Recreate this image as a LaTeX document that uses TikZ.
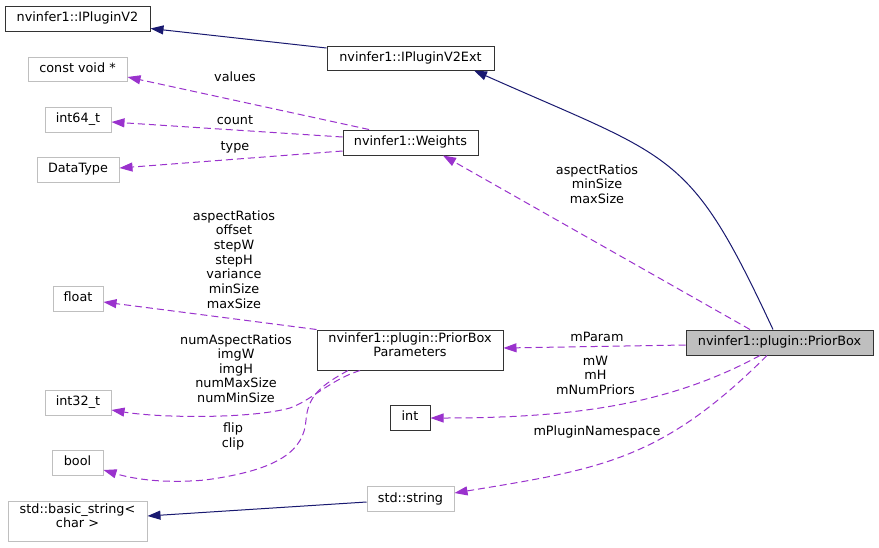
\documentclass[tikz,border=0pt]{standalone}
\usepackage{fontspec}
\setmainfont{DejaVu Sans}
\usetikzlibrary{arrows.meta,calc}
\definecolor{navyc}{HTML}{191970}
\definecolor{orchidc}{HTML}{9A32CD}
\definecolor{grayb}{HTML}{BFBFBF}
\definecolor{darkb}{HTML}{333333}
\newcommand\mlines[2]{\vtop{\baselineskip=#1\relax\halign{\hfil##\hfil\cr#2\crcr}}}
\begin{document}
\begin{tikzpicture}[x=1pt,y=-1pt,
  font=\fontsize{12.8pt}{14.6pt}\selectfont,
  box/.style={rectangle,inner sep=0pt,line width=1pt,text height=9.4pt,text depth=3pt},
  boxtwo/.style={rectangle,inner sep=0pt,line width=1pt,text height=9.4pt,text depth=24pt},
  docbox/.style={draw=darkb,fill=white},
  undocbox/.style={draw=grayb,fill=white},
  mainbox/.style={draw=darkb,fill=grayb},
  inh/.style={draw=navyc,line width=1pt,-{Triangle[length=13pt,width=9pt]},color=navyc},
  use/.style={draw=orchidc,line width=1pt,dash pattern=on 7pt off 4pt,-{Triangle[length=13pt,width=9pt]},color=orchidc},
  lab/.style={inner sep=0pt,anchor=base}]
\fill[white] (0,0) rectangle (879,547);
\useasboundingbox (0,0) rectangle (879,547);

% nodes
\node[box,docbox,minimum width=145pt,minimum height=25pt] (v2) at (77.5,18.5) {nvinfer1::IPluginV2};
\node[box,docbox,minimum width=167pt,minimum height=24pt] (v2ext) at (410.5,58) {nvinfer1::IPluginV2Ext};
\node[box,undocbox,minimum width=99pt,minimum height=24pt] (cvoid) at (77.5,69) {const void *};
\node[box,undocbox,minimum width=66pt,minimum height=25pt] (i64) at (78,119.5) {int64\_t};
\node[box,undocbox,minimum width=82pt,minimum height=25pt] (dtype) at (78,169.5) {DataType};
\node[box,docbox,minimum width=135pt,minimum height=25pt] (weights) at (410.5,142.5) {nvinfer1::Weights};
\node[box,undocbox,minimum width=50pt,minimum height=25pt] (float) at (78,298.5) {float};
\node[boxtwo,docbox,minimum width=186pt,minimum height=40pt] (params) at (410,350) {\mlines{14pt}{nvinfer1::plugin::PriorBox\cr Parameters}};
\node[box,mainbox,minimum width=187pt,minimum height=25pt] (prior) at (779.5,342.5) {nvinfer1::plugin::PriorBox};
\node[box,undocbox,minimum width=66pt,minimum height=25pt] (i32) at (78,402.5) {int32\_t};
\node[box,docbox,minimum width=40pt,minimum height=25pt] (int) at (410,417.5) {int};
\node[box,undocbox,minimum width=51pt,minimum height=25pt] (bool) at (77.5,462.5) {bool};
\node[box,undocbox,minimum width=87pt,minimum height=25pt] (str) at (410.5,499) {std::string};
\node[boxtwo,undocbox,minimum width=139pt,minimum height=40pt] (bstr) at (77.5,521) {\mlines{14pt}{std::basic\_string<\cr char >}};

% inheritance edges
\draw[inh] ($(v2ext.west)+(0,-10)$) -- ($(v2.east)+(0,10)$);
\draw[inh] ($(prior.north)+(-6.5,0)$) .. controls (689,149) and (675,160) .. ($(v2ext.south)+(63.5,0)$);
\draw[inh] ($(str.west)+(0,3)$) -- ($(bstr.east)+(0,-5)$);

% usage edges
\draw[use] ($(prior.north)+(-29.5,0)$) -- ($(weights.south)+(32.5,0)$);
\draw[use] ($(weights.north)+(-41.5,0)$) -- ($(cvoid.east)+(0,8)$);
\draw[use] ($(weights.west)+(0,-5.5)$) -- ($(i64.east)+(0,2.5)$);
\draw[use] ($(weights.west)+(0,8.5)$) -- ($(dtype.east)+(0,-1.5)$);
\draw[use] (params.north west) -- ($(float.east)+(0,3.5)$);
\draw[use] ($(params.south)+(-50,0)$) .. controls (330,380) and (312,400) .. (290,408) .. controls (250,419) and (160,418) .. ($(i32.east)+(0,7.5)$);
\draw[use] ($(params.south)+(-62,0)$) .. controls (322,385) and (308,395) .. (306,420) .. controls (304,450) and (280,470) .. (205,480) .. controls (160,484) and (130,478) .. ($(bool.east)+(0,7.5)$);
\draw[use] ($(prior.west)+(0,2.5)$) -- ($(params.east)+(0,-2)$);
\draw[use] ($(prior.south)+(-19.5,0)$) .. controls (672,403) and (580,418) .. ($(int.east)+(0,0.5)$);
\draw[use] ($(prior.south)+(-12.5,0)$) .. controls (662,460) and (601,469) .. ($(str.east)+(0,-6)$);

% edge labels
\node[lab] (lvalues) at (235,81.7) {values};
\node[lab] (lcount) at (235,124) {count};
\node[lab] (ltype) at (235,150.7) {type};
\node[lab] (lfloat) at (234,220) {\mlines{14.67pt}{aspectRatios\cr offset\cr stepW\cr stepH\cr variance\cr minSize\cr maxSize}};
\node[lab] (li32) at (236,344.3) {\mlines{14.5pt}{numAspectRatios\cr imgW\cr imgH\cr numMaxSize\cr numMinSize}};
\node[lab] (lbool) at (233,432.7) {\mlines{14.6pt}{flip\cr clip}};
\node[lab] (lweights) at (597,174.3) {\mlines{14.6pt}{aspectRatios\cr minSize\cr maxSize}};
\node[lab] (lmparam) at (597,341) {mParam};
\node[lab] (lint) at (595.5,365) {\mlines{14.6pt}{mW\cr mH\cr mNumPriors}};
\node[lab] (lstr) at (597,435) {mPluginNamespace};
\end{tikzpicture}
\end{document}
